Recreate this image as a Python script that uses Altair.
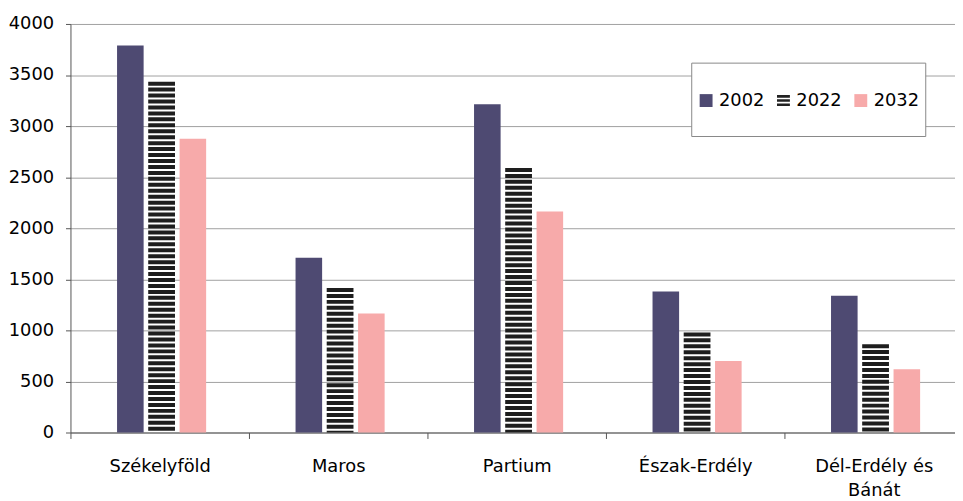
import altair as alt
import pandas as pd

regions = ["Székelyföld", "Maros", "Partium", "Észak-Erdély", "Dél-Erdély és Bánát"]
years = ["2002", "2022", "2032"]
v2002 = [3790, 1710, 3215, 1380, 1340]
v2022 = [3435, 1415, 2590, 980, 865]
v2032 = [2875, 1165, 2165, 700, 620]
colors = ["#4E4A72", "#222222", "#F7AAAA"]
stripe_path = "M-1,-0.85H1V-0.45H-1Z M-1,-0.2H1V0.2H-1Z M-1,0.45H1V0.85H-1Z"

rows = []
for yr, vals in zip(years, [v2002, v2022, v2032]):
    for r, v in zip(regions, vals):
        rows.append({"region": r, "year": yr, "value": v})
df = pd.DataFrame(rows)

FONT = "DejaVu Sans"

x_enc = alt.X(
    "region:N",
    sort=regions,
    scale=alt.Scale(paddingInner=0, paddingOuter=0, range=[0, 900]),
    axis=alt.Axis(
        title=None,
        labelAngle=0,
        tickBand="extent",
        tickSize=6,
        tickColor="#555555",
        domainColor="#555555",
        labelFontSize=18,
        labelFont=FONT,
        labelColor="#000000",
        labelPadding=19,
        labelExpr="datum.label == 'Dél-Erdély és Bánát' ? ['Dél-Erdély és', 'Bánát'] : datum.label",
        labelLineHeight=25,
    ),
)
# side slots keep the group of three bars centred in each category band
offset_domain = ["_l"] + years + ["_r"]
xoff = alt.XOffset(
    "year:N",
    scale=alt.Scale(domain=offset_domain, paddingInner=0.15, paddingOuter=0.43, align=0.57),
)
y_enc = alt.Y(
    "value:Q",
    scale=alt.Scale(domain=[0, 4000], nice=False),
    axis=alt.Axis(
        title=None,
        values=list(range(0, 4001, 500)),
        format="d",
        tickSize=5,
        tickColor="#555555",
        domainColor="#555555",
        gridColor="#A0A0A0",
        labelFontSize=18,
        labelFont=FONT,
        labelColor="#000000",
        labelPadding=12,
    ),
)

base = alt.Chart(df)

bars02 = base.transform_filter("datum.year == '2002'").mark_bar(color=colors[0]).encode(
    x=x_enc, xOffset=xoff, y=y_enc
)
bars32 = base.transform_filter("datum.year == '2032'").mark_bar(color=colors[2]).encode(
    x=x_enc, xOffset=xoff, y=y_enc
)
stripes = base.transform_filter("datum.year == '2022'").mark_rule(
    strokeWidth=27, strokeDash=[4, 2], strokeCap="butt", color="#1E1E1E"
).encode(x=x_enc, xOffset=xoff, y=y_enc, y2=alt.datum(0))

legend = alt.Legend(
    title=" ",
    titleFontSize=1,
    titlePadding=22,
    orient="none",
    legendX=626,
    legendY=39,
    direction="horizontal",
    padding=6,
    strokeColor="#888888",
    fillColor="white",
    labelFontSize=18,
    labelFont=FONT,
    labelColor="#000000",
    labelExpr="[datum.label, '']",
    symbolSize=169,
    symbolStrokeWidth=0,
    columnPadding=10,
    labelOffset=4,
)
legend_layer = base.transform_filter("false").mark_point(filled=True, opacity=1).encode(
    x=x_enc,
    y=y_enc,
    color=alt.Color("year:N", scale=alt.Scale(domain=years, range=colors), legend=legend),
    shape=alt.Shape("year:N", scale=alt.Scale(domain=years, range=["square", stripe_path, "square"]), legend=legend),
)

chart = (
    alt.layer(bars02, stripes, bars32, legend_layer)
    .properties(
        width=892,
        height=412,
        autosize=alt.AutoSizeParams(type="none"),
        padding={"left": 63, "top": 14, "right": 0, "bottom": 70},
    )
    .configure_view(stroke=None)
    .configure_axis(grid=False)
    .configure_axisY(grid=True)
)
chart.config.style = {"guide-label": {"lineHeight": 20.5}}

chart.save("out.html", embed_options={"renderer": "svg", "actions": False})
